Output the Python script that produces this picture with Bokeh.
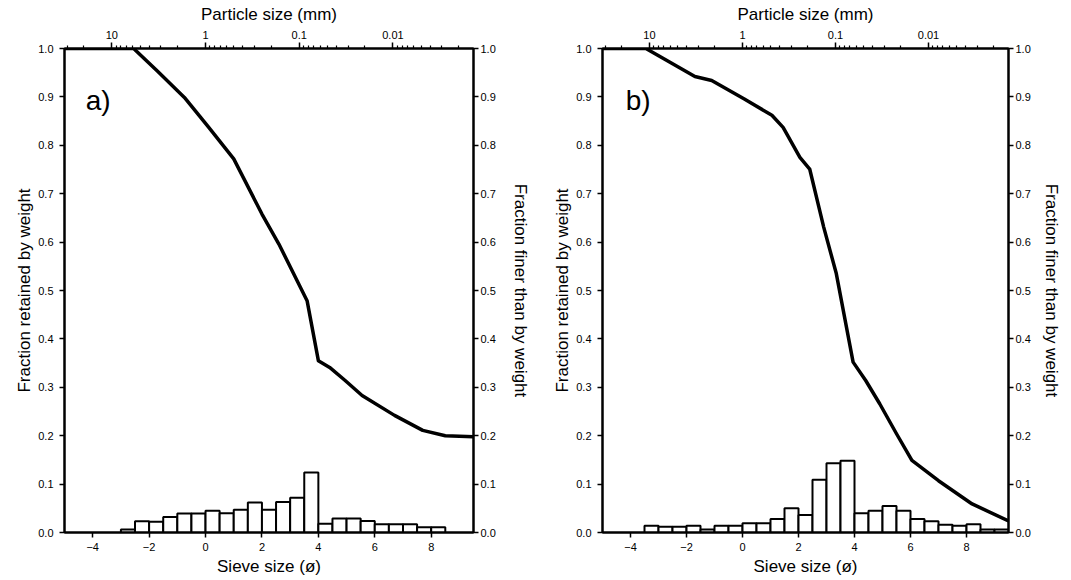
from bokeh.plotting import figure
from bokeh.models import (LinearAxis, LogAxis, Range1d, LogScale, FixedTicker,
                          PrintfTickFormatter, Label, ColumnDataSource)
from bokeh.layouts import row
from bokeh.embed import file_html
from bokeh.resources import INLINE

# ---------------- data ----------------
phi_range = (-5.0, 9.5)
fraction_range = (0.0, 1.0)
sieve_ticks = [-4, -2, 0, 2, 4, 6, 8]
fraction_ticks = [0.0, 0.1, 0.2, 0.3, 0.4, 0.5, 0.6, 0.7, 0.8, 0.9, 1.0]
mm_major_ticks = [10, 1, 0.1, 0.01]
mm_minor_mult = [2, 3, 4, 5, 6, 7, 8, 9]
mm_minor_decades = [0.001, 0.01, 0.1, 1, 10]
bin_width = 0.5

# panel a
a_bin_left = [-3.0, -2.5, -2.0, -1.5, -1.0, -0.5, 0.0, 0.5, 1.0, 1.5, 2.0, 2.5,
              3.0, 3.5, 4.0, 4.5, 5.0, 5.5, 6.0, 6.5, 7.0, 7.5, 8.0]
a_bin_frac = [0.006, 0.023, 0.022, 0.032, 0.039, 0.039, 0.045, 0.040, 0.047, 0.062,
              0.047, 0.063, 0.072, 0.124, 0.018, 0.029, 0.029, 0.024, 0.017, 0.017,
              0.017, 0.011, 0.011]
a_curve_phi = [-5.0, -2.55, -1.7, -0.75, 0.1, 1.0, 2.0, 2.6, 3.6, 4.0, 4.4, 4.95,
               5.55, 6.7, 7.7, 8.5, 9.5]
a_curve_frac = [1.0, 1.0, 0.953, 0.899, 0.838, 0.772, 0.658, 0.596, 0.479, 0.355,
                0.341, 0.314, 0.283, 0.242, 0.211, 0.200, 0.198]

# panel b
b_bin_left = [-3.5, -3.0, -2.5, -2.0, -1.5, -1.0, -0.5, 0.0, 0.5, 1.0, 1.5, 2.0, 2.5,
              3.0, 3.5, 4.0, 4.5, 5.0, 5.5, 6.0, 6.5, 7.0, 7.5, 8.0, 8.5, 9.0]
b_bin_frac = [0.014, 0.012, 0.012, 0.014, 0.006, 0.014, 0.014, 0.019, 0.019, 0.028,
              0.050, 0.036, 0.109, 0.143, 0.148, 0.040, 0.045, 0.055, 0.045, 0.028,
              0.023, 0.016, 0.014, 0.017, 0.006, 0.006]
b_curve_phi = [-5.0, -3.45, -1.7, -1.1, 0.05, 1.05, 1.45, 2.05, 2.4, 2.9, 3.35, 3.95,
               4.4, 4.9, 5.5, 6.05, 7.0, 8.2, 9.5]
b_curve_frac = [1.0, 1.0, 0.942, 0.934, 0.896, 0.862, 0.837, 0.775, 0.751, 0.631,
                0.535, 0.352, 0.314, 0.266, 0.204, 0.149, 0.107, 0.059, 0.024]

FONT = "Liberation Sans"


def style_axis(ax, minor=False):
    ax.axis_line_color = "black"
    ax.axis_line_width = 2
    ax.major_tick_line_color = "black"
    ax.major_tick_line_width = 1.5
    ax.major_tick_in = 0
    ax.major_tick_out = 5
    if minor:
        ax.minor_tick_line_color = "black"
        ax.minor_tick_line_width = 1.2
        ax.minor_tick_in = 0
        ax.minor_tick_out = 3
    else:
        ax.minor_tick_line_color = None
    ax.major_label_text_font = FONT
    ax.major_label_text_font_size = "11px"
    ax.major_label_text_color = "black"
    ax.major_label_standoff = 2
    ax.axis_label_text_font = FONT
    ax.axis_label_text_font_size = "17px"
    ax.axis_label_text_font_style = "normal"
    ax.axis_label_text_color = "black"
    ax.axis_label_standoff = 1


def make_panel(letter, letter_x, bin_left, bin_frac, curve_phi, curve_frac,
               width, border_left, border_right, right_standoff):
    p = figure(width=width, height=578,
               x_range=Range1d(*phi_range), y_range=Range1d(*fraction_range),
               output_backend="svg", toolbar_location=None,
               min_border_left=border_left, min_border_right=border_right,
               min_border_top=48, min_border_bottom=46)
    p.xgrid.visible = False
    p.ygrid.visible = False
    p.outline_line_color = "black"
    p.outline_line_width = 2
    p.background_fill_color = "white"
    p.border_fill_color = "white"

    src = ColumnDataSource(dict(left=bin_left,
                                right=[v + bin_width for v in bin_left],
                                top=bin_frac))
    p.quad(left="left", right="right", bottom=0, top="top", source=src,
           fill_color="white", line_color="black", line_width=2)
    p.line(curve_phi, curve_frac, line_color="black", line_width=3.5,
           line_join="round")

    # bottom axis (sieve size)
    xa = p.xaxis[0]
    xa.ticker = FixedTicker(ticks=sieve_ticks)
    xa.axis_label = "Sieve size (ø)"
    style_axis(xa)
    xa.major_label_standoff = 5
    xa.axis_label_standoff = 3

    # left axis
    ya = p.yaxis[0]
    ya.ticker = FixedTicker(ticks=fraction_ticks)
    ya.formatter = PrintfTickFormatter(format="%.1f")
    ya.axis_label = "Fraction retained by weight"
    style_axis(ya)
    ya.major_label_standoff = 6

    # right axis
    ra = LinearAxis(ticker=FixedTicker(ticks=fraction_ticks),
                    formatter=PrintfTickFormatter(format="%.1f"),
                    axis_label="Fraction finer than by weight")
    style_axis(ra)
    ra.major_label_standoff = 2
    ra.axis_label_standoff = right_standoff
    p.add_layout(ra, "right")

    # top axis (particle size, mm) on a log scale
    p.extra_x_ranges = {"mm": Range1d(2 ** (-phi_range[0]), 2 ** (-phi_range[1]))}
    p.extra_x_scales = {"mm": LogScale()}
    minor = [m * d for d in mm_minor_decades for m in mm_minor_mult]
    ta = LogAxis(x_range_name="mm",
                 ticker=FixedTicker(ticks=mm_major_ticks, minor_ticks=minor),
                 formatter=PrintfTickFormatter(format="%g"),
                 axis_label="Particle size (mm)")
    style_axis(ta, minor=True)
    ta.major_tick_out = 6
    ta.major_label_standoff = 4
    ta.axis_label_standoff = 4
    p.add_layout(ta, "above")

    p.add_layout(Label(x=letter_x, y=0.893, text=letter, text_font=FONT,
                       text_font_size="28px", text_color="black",
                       text_baseline="alphabetic"))
    return p


pa = make_panel("a)", -4.25, a_bin_left, a_bin_frac, a_curve_phi, a_curve_frac,
                535, 64, 62, 12)
pb = make_panel("b)", -4.17, b_bin_left, b_bin_frac, b_curve_phi, b_curve_frac,
                528, 67, 53, 8)

layout = row(pa, pb)
open("out.html", "w").write(file_html(layout, INLINE))
